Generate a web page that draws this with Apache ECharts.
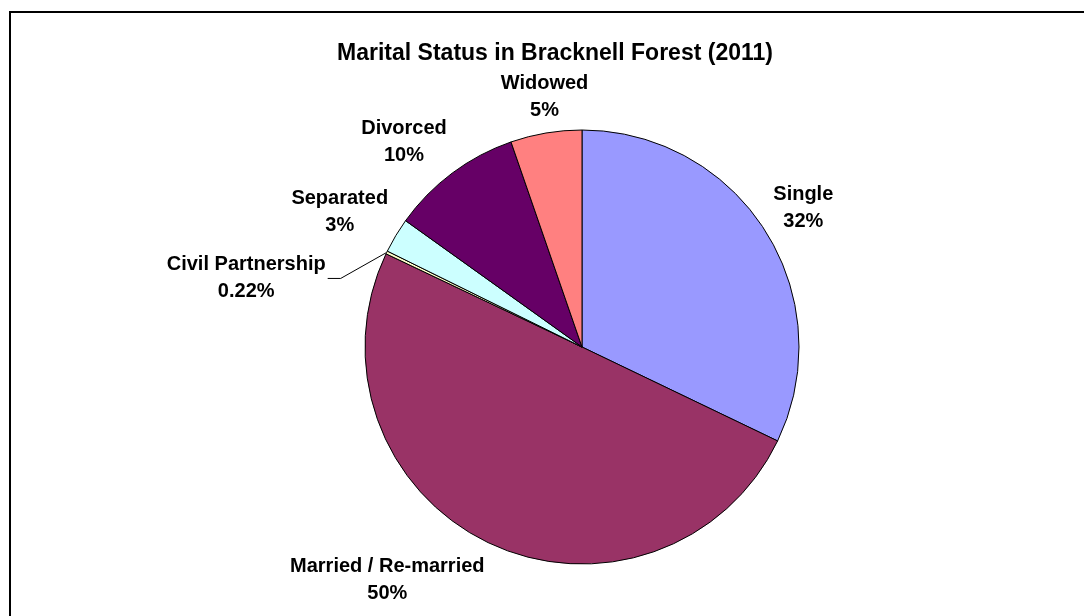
<!DOCTYPE html>
<html>
<head>
<meta charset="utf-8">
<title>Marital Status in Bracknell Forest (2011)</title>
<script src="https://cdn.jsdelivr.net/npm/echarts@6.0.0/dist/echarts.min.js"></script>
<style>
  html, body { margin: 0; padding: 0; background: #fff; }
  #main { width: 1084px; height: 616px; }
</style>
</head>
<body>
<div id="main"></div>
<script>
// values (percent of residents aged 16+)
const categories = ["Single", "Married / Re-married", "Civil Partnership", "Separated", "Divorced", "Widowed"];
const shares = [32.1, 49.9, 0.22, 2.6, 9.8, 5.3];
const colors = ["#9999FF", "#993366", "#FFFFCC", "#CCFFFF", "#660066", "#FF8080"];

// label placement tweaks (px)
const labelGap = 9;
const sideDrop = 17;
const leaderLabels = { "Civil Partnership": [-61, 26] };
const font = "'Liberation Sans', Arial, sans-serif";

let chart = echarts.init(document.getElementById("main"));

let pieData = categories.map(function (name, i) {
  let item = { name: name, value: shares[i], itemStyle: { color: colors[i] } };
  if (leaderLabels[name]) {
    item.labelLine = { show: true };
  }
  return item;
});

let option = {
  backgroundColor: "#fff",
  animation: false,
  title: {
    text: "Marital Status in Bracknell Forest (2011)",
    left: 550,
    top: 37,
    textAlign: "center",
    textStyle: {
      fontFamily: font,
      fontWeight: "bold",
      fontSize: 23,
      lineHeight: 23,
      color: "#000",
    },
  },
  graphic: [
    {
      type: "rect",
      shape: { x: 10, y: 12, width: 1100, height: 700 },
      style: { fill: "none", stroke: "#000", lineWidth: 2 },
      silent: true,
    },
  ],
  series: [
    {
      type: "pie",
      center: [582, 347],
      radius: 217,
      startAngle: 90,
      clockwise: true,
      avoidLabelOverlap: false,
      itemStyle: { borderColor: "#000", borderWidth: 1 },
      emphasis: { disabled: true },
      label: {
        show: true,
        position: "outside",
        fontFamily: font,
        fontWeight: "bold",
        fontSize: 20,
        lineHeight: 27,
        color: "#000",
        formatter: function (p) {
          let pct = p.percent < 1 ? p.percent.toFixed(2) : Math.round(p.percent);
          return p.name + "\n" + pct + "%";
        },
      },
      labelLine: {
        show: false,
        length: 10,
        length2: 10,
        lineStyle: { color: "#000", width: 1 },
      },
      labelLayout: function (p) {
        let lay = chart.getModel().getSeriesByIndex(0).getData().getItemLayout(p.dataIndex);
        let mid = (lay.startAngle + lay.endAngle) / 2;
        let dx = Math.cos(mid);
        let dy = Math.sin(mid);
        let w = p.labelRect.width;
        let h = p.labelRect.height;
        let name = categories[p.dataIndex];
        let off = leaderLabels[name];
        if (off) {
          // small slice: label pushed aside with a leader line
          let ex = lay.cx + lay.r * dx;
          let ey = lay.cy + lay.r * dy;
          let right = ex + off[0];
          let cy = ey + off[1];
          return {
            x: right - w / 2,
            y: cy,
            align: "center",
            verticalAlign: "middle",
            labelLinePoints: [[ex, ey], [right + 15, cy], [right + 2, cy]],
          };
        }
        let ax = lay.cx + (lay.r + labelGap) * dx;
        let ay = lay.cy + (lay.r + labelGap) * dy;
        let left = Math.abs(dx) < 0.3 ? ax - w / 2 : dx > 0 ? ax : ax - w;
        let top = (dy > 0 ? ay : ay - h) + sideDrop * (1 - Math.abs(dy));
        return {
          x: left + w / 2,
          y: top + h / 2,
          align: "center",
          verticalAlign: "middle",
        };
      },
      data: pieData,
    },
  ],
};
chart.setOption(option);
</script>
</body>
</html>
